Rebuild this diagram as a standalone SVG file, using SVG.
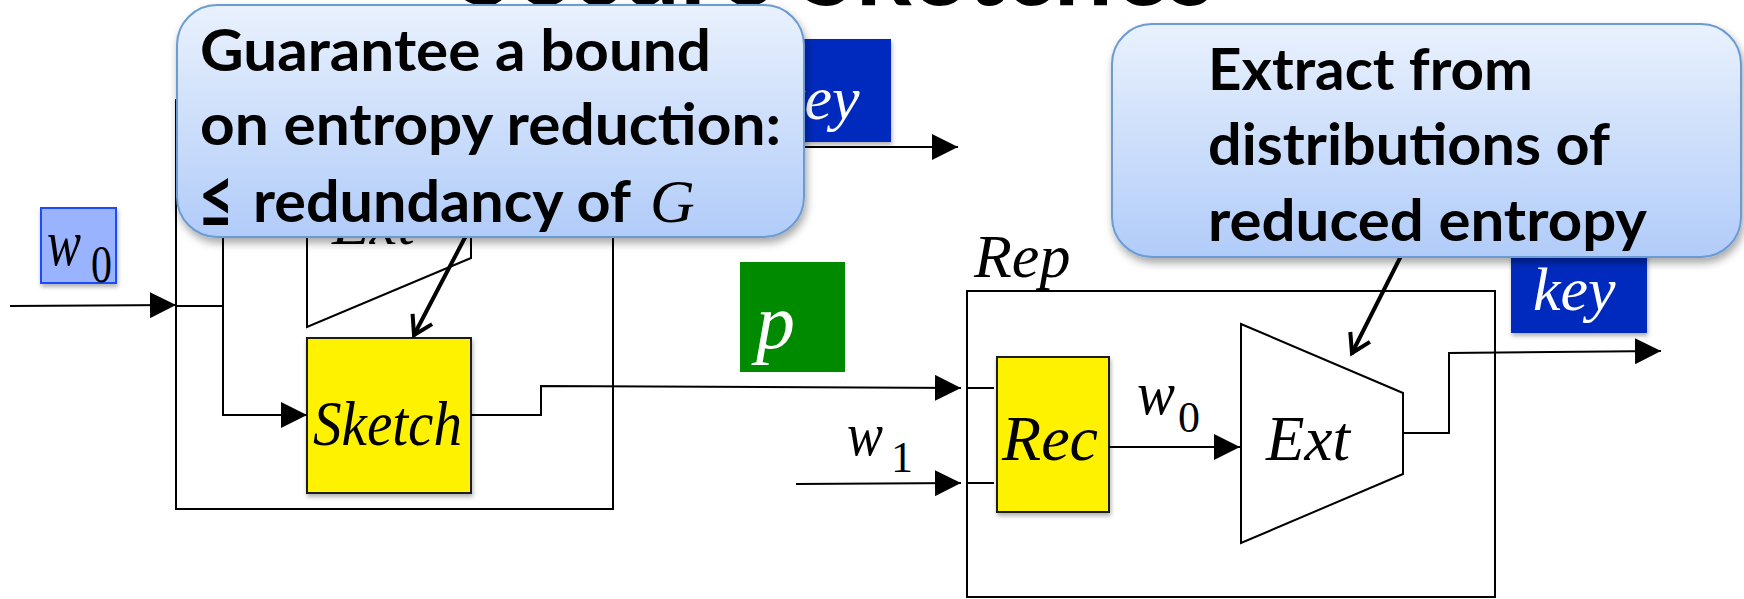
<svg xmlns="http://www.w3.org/2000/svg" width="1744" height="599" viewBox="0 0 1744 599">
  <defs>
    <style>
      .wire { fill: none; stroke: #000; stroke-width: 2; }
      .frame { fill: none; stroke: #000; stroke-width: 2; }
      .trap { fill: #fff; stroke: #000; stroke-width: 2; }
      .block { fill: #fff200; stroke: #1a1a1a; stroke-width: 2; filter: url(#boxShadow); }
      .pointer { fill: none; stroke: #000; stroke-width: 4; stroke-linecap: round; }
      .math { font-family: "Liberation Serif", "Times New Roman", serif; font-style: italic; fill: #000; }
      .sub { font-family: "Liberation Serif", "Times New Roman", serif; font-style: normal; fill: #000; }
      .inv { fill: #fff; }
      .note { font-family: Lato, "Liberation Sans", sans-serif; font-weight: bold; font-size: 58px; fill: #000; }
      .rel { font-size: 82px; }
      .callout { fill: url(#calloutFill); stroke: #6b9bd2; stroke-width: 2; filter: url(#softShadow); }
      .keybox { fill: #0029be; filter: url(#boxShadow); }
    </style>
    <linearGradient id="calloutFill" x1="0" y1="0" x2="0" y2="1">
      <stop offset="0" stop-color="#e9f1fd"/>
      <stop offset="1" stop-color="#b1ccf9"/>
    </linearGradient>
    <filter id="softShadow" x="-10%" y="-10%" width="125%" height="135%">
      <feDropShadow dx="2" dy="5" stdDeviation="4" flood-color="#000" flood-opacity="0.35"/>
    </filter>
    <filter id="boxShadow" x="-10%" y="-10%" width="130%" height="130%">
      <feDropShadow dx="1" dy="3" stdDeviation="2" flood-color="#000" flood-opacity="0.3"/>
    </filter>
    <marker id="arrowFill" markerUnits="userSpaceOnUse" viewBox="0 0 26 26" refX="26" refY="13" markerWidth="26" markerHeight="26" orient="auto">
      <path d="M0,0 L26,13 L0,26 z" fill="#000"/>
    </marker>
    <marker id="arrowOpen" markerUnits="userSpaceOnUse" viewBox="-24 -15 28 30" refX="0" refY="0" markerWidth="28" markerHeight="30" orient="auto">
      <path d="M-18,-11 L0,0 L-18,11" fill="none" stroke="#000" stroke-width="4" stroke-linejoin="miter"/>
    </marker>
  </defs>

  <rect width="1744" height="599" fill="#fff"/>

  <!-- slide title -->
  <g id="title">
    <text x="457" y="5" font-family="Lato, 'Liberation Sans', sans-serif" font-weight="bold" font-size="113" textLength="758" lengthAdjust="spacingAndGlyphs">Secure Sketches</text>
  </g>

  <!-- Gen: generation side -->
  <g id="gen-frame">
    <rect class="frame" x="176" y="100" width="437" height="409"/>
  </g>
  <g id="gen-ext">
    <polygon class="trap" points="307,108 471,177 471,258 307,327"/>
    <text class="math" x="332" y="244" font-size="62">Ext</text>
  </g>
  <g id="sketch">
    <rect class="block" x="307" y="338" width="164" height="155"/>
    <text class="math" x="313" y="445" font-size="63" textLength="149" lengthAdjust="spacingAndGlyphs">Sketch</text>
  </g>

  <!-- Rep: reproduction side -->
  <g id="rep-frame">
    <text class="math" x="974" y="277" font-size="62">Rep</text>
    <rect class="frame" x="967" y="291" width="528" height="306"/>
  </g>
  <g id="rec">
    <rect class="block" x="997" y="357" width="112" height="155"/>
    <text class="math" x="1002" y="460" font-size="64" textLength="96" lengthAdjust="spacingAndGlyphs">Rec</text>
  </g>
  <g id="rep-ext">
    <polygon class="trap" points="1241,324 1403,393 1403,474 1241,543"/>
    <text class="math" x="1266" y="460" font-size="63">Ext</text>
  </g>

  <!-- value tags -->
  <g id="tag-w0">
    <rect x="41" y="208" width="75" height="75" fill="#99b3ff" stroke="#1f4cff" stroke-width="2" filter="url(#boxShadow)"/>
    <text class="math" x="47" y="265" font-size="66" textLength="34" lengthAdjust="spacingAndGlyphs">w</text>
    <text class="sub" x="91" y="282" font-size="52" textLength="21" lengthAdjust="spacingAndGlyphs">0</text>
  </g>
  <g id="tag-p">
    <rect x="740" y="262" width="105" height="110" fill="#008a00"/>
    <text class="math inv" x="756" y="348" font-size="78">p</text>
  </g>
  <g id="tag-key-gen">
    <rect class="keybox" x="755" y="39" width="136" height="103"/>
    <text class="math inv" x="777" y="119" font-size="62">key</text>
  </g>
  <g id="tag-key-rep">
    <rect class="keybox" x="1511" y="230" width="136" height="103"/>
    <text class="math inv" x="1533" y="310" font-size="62">key</text>
  </g>
  <g id="label-w1">
    <text class="math" x="847" y="455" font-size="62" textLength="36" lengthAdjust="spacingAndGlyphs">w</text>
    <text class="sub" x="891" y="472" font-size="44">1</text>
  </g>
  <g id="label-w0-mid">
    <text class="math" x="1137" y="414" font-size="62" textLength="38" lengthAdjust="spacingAndGlyphs">w</text>
    <text class="sub" x="1178" y="432" font-size="44">0</text>
  </g>

  <!-- connectors -->
  <g id="connectors">
    <path class="wire" d="M10,306 L176,305" marker-end="url(#arrowFill)"/>
    <path class="wire" d="M176,306 H223"/>
    <path class="wire" d="M223,306 V217 H307" marker-end="url(#arrowFill)"/>
    <path class="wire" d="M223,306 V415 H307" marker-end="url(#arrowFill)"/>
    <path class="wire" d="M471,217 H540 V147 H958" marker-end="url(#arrowFill)"/>
    <path class="wire" d="M471,415 H541 V386 L961,388" marker-end="url(#arrowFill)"/>
    <path class="wire" d="M796,484 L961,483" marker-end="url(#arrowFill)"/>
    <path class="wire" d="M967,388 H994"/>
    <path class="wire" d="M967,483 H994"/>
    <path class="wire" d="M1109,447 H1240" marker-end="url(#arrowFill)"/>
    <path class="wire" d="M1403,433 H1449 V353 L1661,351" marker-end="url(#arrowFill)"/>
    <path class="pointer" d="M471,226 L414,335" marker-end="url(#arrowOpen)"/>
    <path class="pointer" d="M1405,248 L1352,353" marker-end="url(#arrowOpen)"/>
  </g>

  <!-- annotation callouts -->
  <g id="callout-bound">
    <rect class="callout" x="177" y="5" width="627" height="232" rx="40" ry="40"/>
    <text class="note" x="200" y="71" textLength="511" lengthAdjust="spacingAndGlyphs">Guarantee a bound</text>
    <text class="note" x="200" y="145" textLength="581" lengthAdjust="spacingAndGlyphs">on entropy reduction:</text>
    <text class="note rel" x="198" y="228" textLength="36" lengthAdjust="spacingAndGlyphs">≤</text>
    <text class="note" x="253" y="222" textLength="378" lengthAdjust="spacingAndGlyphs">redundancy of</text>
    <text class="math" x="650" y="222" font-size="62">G</text>
  </g>
  <g id="callout-extract">
    <rect class="callout" x="1112" y="24" width="629" height="233" rx="40" ry="40"/>
    <text class="note" x="1208" y="90" textLength="325" lengthAdjust="spacingAndGlyphs">Extract from</text>
    <text class="note" x="1208" y="165" textLength="402" lengthAdjust="spacingAndGlyphs">distributions of</text>
    <text class="note" x="1208" y="241" textLength="439" lengthAdjust="spacingAndGlyphs">reduced entropy</text>
  </g>
</svg>
